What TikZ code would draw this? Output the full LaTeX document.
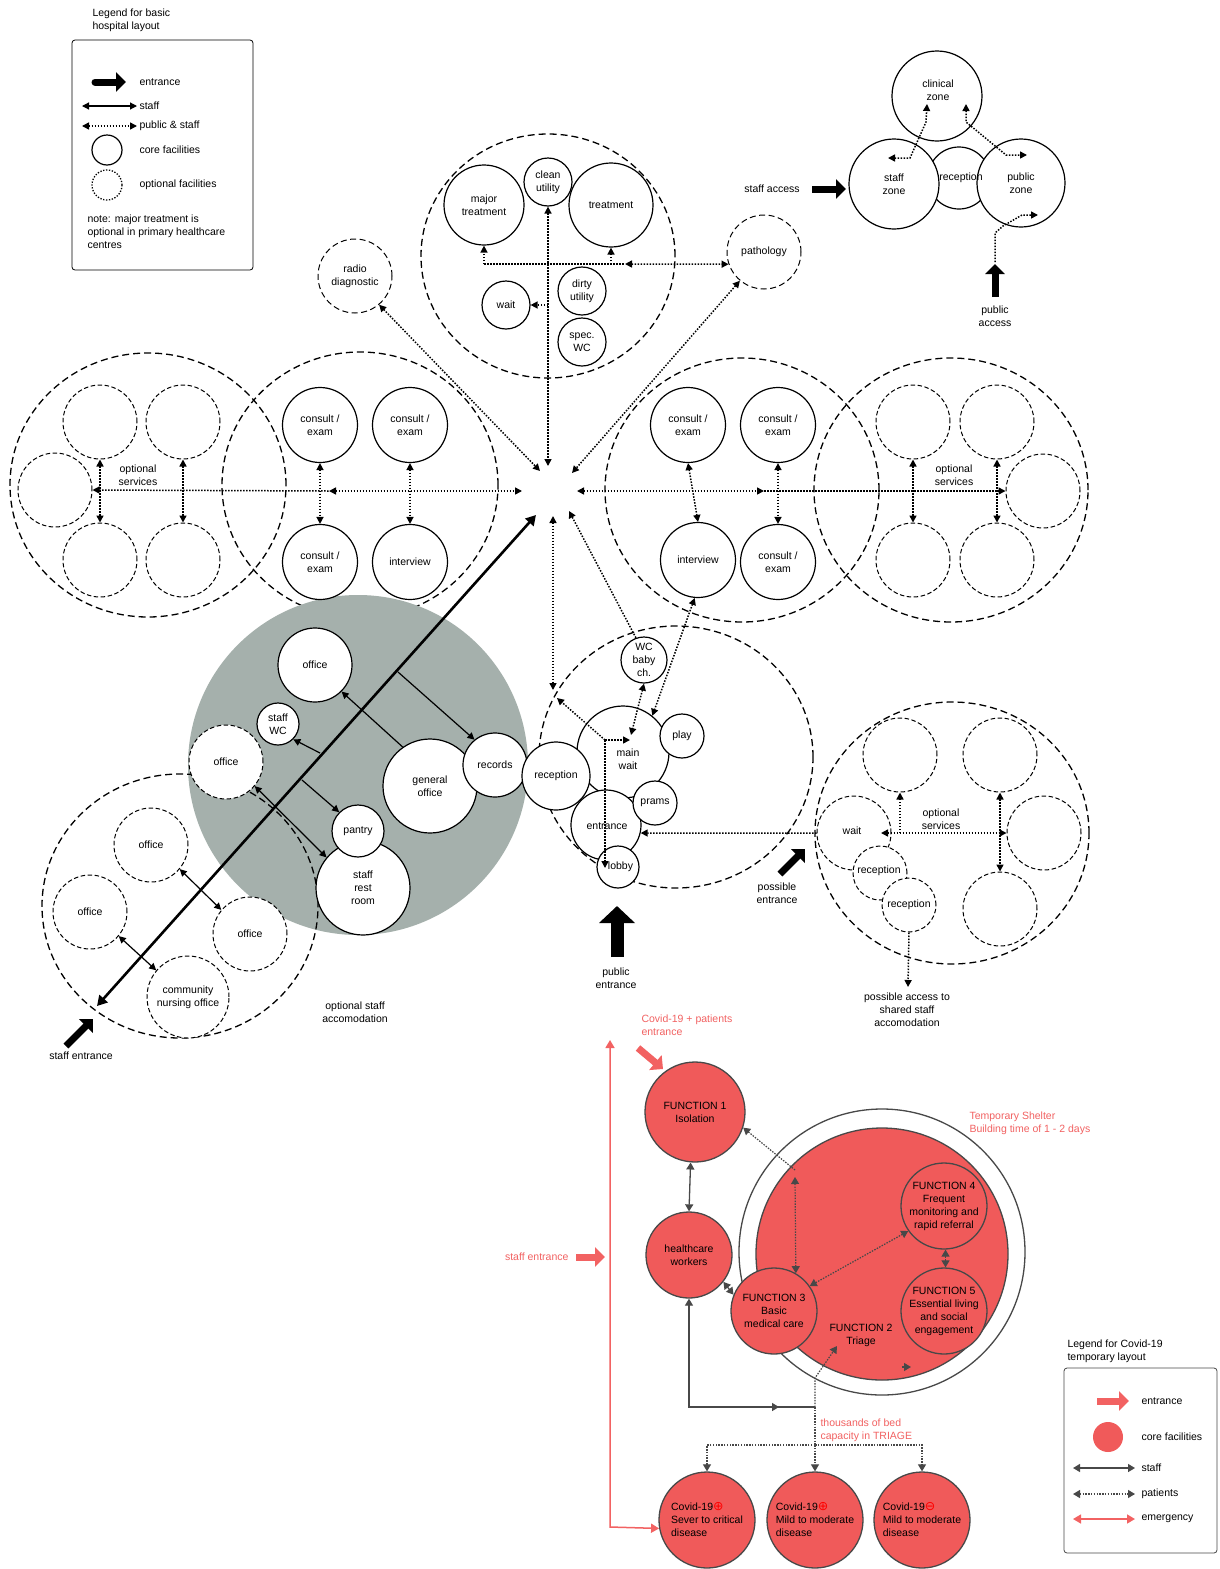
\documentclass[tikz,border=0pt]{standalone}
\usepackage{fontspec}
\setmainfont{Liberation Sans}
\newfontfamily\symbolfont{DejaVu Sans}
\usetikzlibrary{arrows.meta}
\definecolor{HospGrey}{RGB}{165,176,172}
\definecolor{CovidFill}{RGB}{240,90,90}
\definecolor{CovidText}{RGB}{242,98,98}
\definecolor{CovidLine}{RGB}{72,72,72}
\newcommand{\posmark}{{\symbolfont\fontsize{12.5}{13}\selectfont\textcolor{red}{⊕}}}
\newcommand{\negmark}{{\symbolfont\fontsize{12.5}{13}\selectfont\textcolor{red}{⊖}}}

\begin{document}
\begin{tikzpicture}[x=1pt,y=-1pt,
    font=\fontsize{10.5}{13}\selectfont,
    >={Triangle[length=7pt,width=7pt]},
    core/.style={circle,draw,line width=1.2pt,fill=white,inner sep=0pt,align=center},
    optional/.style={circle,draw,dash pattern=on 4.5pt off 2.5pt,line width=1pt,fill=white,inner sep=0pt,align=center},
    zone/.style={draw,dash pattern=on 7pt off 4pt,line width=1.3pt},
    staffarr/.style={line width=1.2pt},
    pubarr/.style={line width=1.5pt,dash pattern=on 1.5pt off 1.5pt},
    fatarr/.style={line width=7pt,-{Triangle[length=10pt,width=19pt]}},
    covid/.style={circle,draw=CovidLine,line width=1.3pt,fill=CovidFill,inner sep=0pt,align=center},
    gstaff/.style={draw=CovidLine,line width=1.3pt,>={Triangle[length=7pt,width=8pt]}},
    patarr/.style={draw=CovidLine,line width=1.2pt,dash pattern=on 1.5pt off 1.3pt,>={Triangle[length=7pt,width=8pt]}},
    emerg/.style={draw=CovidText,line width=1.5pt,>={Triangle[length=8pt,width=9pt]}},
    redtext/.style={text=CovidText,align=left}]

    \useasboundingbox (0,0) rectangle (1219,1569);
    \fill[white] (0,0) rectangle (1219,1569);

    % Legend for basic layout
    \node[anchor=north west,align=left] (legtitle) at (89,5) {Legend for basic\\hospital layout};
    \draw[line width=0.8pt,rounded corners=3pt] (72,40) rectangle (253,270);
    \coordinate (legent1) at (95,82);
    \coordinate (legent2) at (126,82);
    \draw[fatarr,line cap=round] (legent1) -- (legent2);
    \node[anchor=west] (legentrance) at (136,82) {entrance};
    \coordinate (legst1) at (82,106);
    \coordinate (legst2) at (137,106);
    \draw[staffarr,<->] (legst1) -- (legst2);
    \node[anchor=west] (legstaff) at (136,106) {staff};
    \coordinate (legpub1) at (82,126);
    \coordinate (legpub2) at (137,126);
    \draw[pubarr,<->] (legpub1) -- (legpub2);
    \node[anchor=west] (legpublic) at (136,126) {public \& staff};
    \node[core,minimum size=30pt] (legcore) at (107,150) {};
    \node[anchor=west] (legcoretxt) at (136,150) {core facilities};
    \node[circle,draw,line width=1.3pt,dash pattern=on 1.3pt off 1.6pt,minimum size=30pt] (legopt) at (107,185) {};
    \node[anchor=west] (legopttxt) at (136,185) {optional facilities};
    \node[anchor=north west,align=left] (legnote) at (84,211) {note: major treatment is\\optional in primary healthcare\\centres};

    % Zones: staff, clinical, public
    \node[core,minimum size=62pt] (zonerecep) at (959,178) {};
    \node[core,minimum size=90pt] (staffzone) at (894,184) {staff\\zone};
    \node[core,minimum size=88pt] (publiczone) at (1021,183) {public\\zone};
    \node[core,minimum size=90pt] (clinzone) at (937,96) {};
    \node[align=center] (clinzonetxt) at (938,90) {clinical\\zone};
    \node (zonereceptxt) at (961,178) {reception};
    \coordinate (sz1) at (888,158);
    \coordinate (sz2) at (910,158);
    \coordinate (sz3) at (926,122);
    \coordinate (cz1) at (927,104);
    \draw[pubarr,<->] (sz1) -- (sz2) -- (sz3) -- (cz1);
    \coordinate (cz2) at (966,104);
    \coordinate (cz3) at (966,122);
    \coordinate (pz1) at (1006,155);
    \coordinate (pz2) at (1027,155);
    \draw[pubarr,<->] (cz2) -- (cz3) -- (pz1) -- (pz2);
    \coordinate (pa0) at (995,262);
    \coordinate (pa1) at (995,233);
    \coordinate (pa2) at (1003,226);
    \coordinate (pa3) at (1022,215);
    \coordinate (pz3) at (1038,215);
    \draw[pubarr,->] (pa0) -- (pa1) -- (pa2) -- (pa3) -- (pz3);
    \coordinate (pacc1) at (995,297);
    \coordinate (pacc2) at (995,264);
    \draw[fatarr] (pacc1) -- (pacc2);
    \node[align=center] (publicacc) at (995,316) {public\\access};
    \node (staffacc) at (772,189) {staff access};
    \coordinate (sacc1) at (812,189);
    \coordinate (sacc2) at (846,189);
    \draw[fatarr] (sacc1) -- (sacc2);

    % Hub
    \coordinate (hubW) at (522,491);
    \coordinate (hubE) at (577,491);
    \coordinate (hubN) at (548,466);
    \coordinate (hubS) at (553,516);
    \coordinate (hubNW) at (540,471);
    \coordinate (hubNE) at (572,473);
    \coordinate (hubSE) at (569,511);
    \coordinate (hubSW) at (536,515);

    % Treatment cluster
    \draw[zone] (548,256) ellipse [x radius=127pt,y radius=122pt];
    \node[core,minimum size=80pt] (majtreat) at (484,205) {major\\treatment};
    \node[core,minimum size=48pt] (cleanut) at (548,182) {clean\\utility};
    \node[core,minimum size=84pt] (treatment) at (611,205) {treatment};
    \node[core,minimum size=48pt] (dirtyut) at (582,291) {dirty\\utility};
    \node[core,minimum size=48pt] (specwc) at (582,342) {spec.\\WC};
    \node[core,minimum size=48pt] (waittreat) at (506,305) {wait};
    \node[optional,minimum size=74pt,dash pattern=on 6pt off 3.5pt] (pathology) at (764,252) {pathology};
    \node[optional,minimum size=74pt,dash pattern=on 6pt off 3.5pt] (radio) at (355,276) {radio\\diagnostic};
    \coordinate (tjL) at (484,264);
    \coordinate (tjR) at (611,264);
    \coordinate (tjA) at (625,264);
    \draw[pubarr] (tjL) -- (tjA);
    \draw[pubarr,->] (tjL) -- (majtreat.south);
    \draw[pubarr,->] (tjR) -- (treatment.south);
    \draw[pubarr,<->] (tjA) -- (pathology.199);
    \draw[pubarr,<->] (cleanut.south) -- (hubN);
    \coordinate (wj) at (548,305);
    \draw[pubarr,->] (wj) -- (waittreat.east);
    \draw[pubarr,<->] (radio.-50) -- (hubNW);
    \draw[pubarr,<->] (pathology.-130) -- (hubNE);

    % Left clusters
    \draw[zone] (148,485) ellipse [x radius=138pt,y radius=132pt];
    \draw[zone] (360,485) ellipse [x radius=138pt,y radius=133pt];
    \node[optional,minimum size=74pt] (lopt1) at (100,422) {};
    \node[optional,minimum size=74pt] (lopt2) at (183,422) {};
    \node[optional,minimum size=74pt] (lopt3) at (100,560) {};
    \node[optional,minimum size=74pt] (lopt4) at (183,560) {};
    \node[optional,minimum size=74pt] (lopt5) at (55,490) {};
    \node[align=center] (loptsvc) at (138,475) {optional\\services};
    \node[core,minimum size=75pt] (lcons1) at (320,425) {consult /\\exam};
    \node[core,minimum size=75pt] (lcons2) at (410,425) {consult /\\exam};
    \coordinate (lmid) at (329,491);
    \draw[pubarr,<-] (lopt5.east) -- (lmid);
    \draw[pubarr,<->] (lmid) -- (hubW);
    \draw[pubarr,<->] (lopt1.south) -- (lopt3.north);
    \draw[pubarr,<->] (lopt2.south) -- (lopt4.north);

    % Right clusters
    \draw[zone] (742,490) ellipse [x radius=137pt,y radius=132pt];
    \draw[zone] (951,490) ellipse [x radius=137pt,y radius=132pt];
    \node[optional,minimum size=74pt] (ropt1) at (913,422) {};
    \node[optional,minimum size=74pt] (ropt2) at (997,422) {};
    \node[optional,minimum size=74pt] (ropt3) at (913,560) {};
    \node[optional,minimum size=74pt] (ropt4) at (997,560) {};
    \node[optional,minimum size=74pt] (ropt5) at (1043,491) {};
    \node[align=center] (roptsvc) at (954,475) {optional\\services};
    \node[core,minimum size=75pt] (rcons1) at (688,425) {consult /\\exam};
    \node[core,minimum size=75pt] (rcons2) at (778,425) {consult /\\exam};
    \node[core,minimum size=75pt] (rinterv) at (698,560) {interview};
    \node[core,minimum size=75pt] (rcons3) at (778,562) {consult /\\exam};
    \coordinate (rmid) at (764,491);
    \draw[pubarr,<->] (hubE) -- (rmid);
    \draw[pubarr,->] (rmid) -- (ropt5.west);
    \draw[pubarr,<->] (rcons1.south) -- (rinterv.north);
    \draw[pubarr,<->] (rcons2.south) -- (rcons3.north);
    \draw[pubarr,<->] (ropt1.south) -- (ropt3.north);
    \draw[pubarr,<->] (ropt2.south) -- (ropt4.north);

    % Staff area
    \fill[HospGrey] (358,765) circle [radius=170pt];
    \node[core,minimum size=75pt] (lcons3) at (320,562) {consult /\\exam};
    \node[core,minimum size=75pt] (linterv) at (410,562) {interview};
    \draw[pubarr,<->] (lcons1.south) -- (lcons3.north);
    \draw[pubarr,<->] (lcons2.south) -- (linterv.north);
    \draw[zone] (180,906) ellipse [x radius=138pt,y radius=132pt];
    \node[core,minimum size=74pt] (office1) at (315,665) {office};
    \node[core,minimum size=42pt] (staffwc) at (278,724) {staff\\WC};
    \node[optional,minimum size=74pt] (office2) at (226,762) {office};
    \node[core,minimum size=94pt] (genoffice) at (430,786) {general\\office};
    \node[core,minimum size=64pt] (records) at (495,765) {records};
    \node[core,minimum size=94pt] (restroom) at (363,888) {staff\\rest\\room};
    \node[core,minimum size=52pt] (pantry) at (358,831) {pantry};
    \node[optional,minimum size=74pt] (office3) at (151,845) {office};
    \node[optional,minimum size=74pt] (office4) at (90,912) {office};
    \node[optional,minimum size=74pt] (office5) at (250,934) {office};
    \node[optional,minimum size=82pt] (cnoffice) at (188,997) {community\\nursing office};
    \coordinate (staffend) at (97,1006);
    \draw[line width=2.6pt,{Triangle[length=10pt,width=11pt]}-{Triangle[length=10pt,width=11pt]}] (staffend) -- (hubSW);
    \coordinate (sl1) at (398,672);
    \coordinate (sl2) at (320,753);
    \coordinate (sl3) at (302,780);
    \draw[staffarr,->] (sl1) -- (records.129);
    \draw[staffarr,->] (genoffice.125) -- (office1.-45);
    \draw[staffarr,->] (sl2) -- (staffwc.-45);
    \draw[staffarr,->] (sl3) -- (pantry.135);
    \draw[staffarr,<->] (office2.-40) -- (restroom.140);
    \draw[staffarr,<->] (office3.-40) -- (office5.140);
    \draw[staffarr,<->] (office4.-40) -- (cnoffice.140);
    \coordinate (sent1) at (66,1046);
    \coordinate (sent2) at (93,1019);
    \draw[fatarr] (sent1) -- (sent2);
    \node (staffent) at (81,1056) {staff entrance};
    \node[align=center] (staffacco) at (355,1012) {optional staff\\accomodation};

    % Main wait cluster
    \draw[zone] (676,757) ellipse [x radius=137pt,y radius=131pt];
    \node[core,minimum size=92pt] (mainwait) at (623,752) {};
    \node[core,minimum size=70pt] (entrance) at (606,825) {};
    \node[core,minimum size=44pt] (prams) at (655,803) {prams};
    \node[core,minimum size=44pt] (play) at (682,736) {play};
    \node[core,minimum size=46pt] (wcbaby) at (644,660) {WC\\baby\\ch.};
    \node[core,minimum size=42pt] (lobby) at (618,867) {\hspace{5pt}lobby};
    \node[core,minimum size=68pt] (reception) at (556,776) {reception};
    \node[align=center] (mainwaittxt) at (628,759) {main\\wait};
    \node (entrancetxt) at (607,826) {entrance};
    \coordinate (wj2) at (553,690);
    \draw[pubarr,<->] (hubS) -- (wj2);
    \coordinate (mwj) at (605,740);
    \coordinate (mwa) at (557,698);
    \coordinate (mwb) at (630,740);
    \coordinate (mwc) at (605,868);
    \coordinate (mwd) at (631,735);
    \draw[pubarr,->] (mwj) -- (mwa);
    \draw[pubarr,->] (mwj) -- (mwb);
    \draw[pubarr,->] (mwj) -- (mwc);
    \draw[pubarr,<->] (wcbaby.-90) -- (mwd);
    \draw[pubarr,->] (wcbaby.110) -- (hubSE);
    \draw[pubarr,<->] (rinterv.-95) -- (mainwait.51);
    \coordinate (pent1) at (617,957);
    \coordinate (pent2) at (617,906);
    \draw[line width=13pt,-{Triangle[length=17pt,width=35pt]}] (pent1) -- (pent2);
    \node[align=center] (pubent) at (616,978) {public\\entrance};
    \coordinate (posent1) at (780,874);
    \coordinate (posent2) at (805,849);
    \draw[fatarr] (posent1) -- (posent2);
    \node[align=center] (posent) at (777,893) {possible\\entrance};

    % Shared cluster
    \draw[zone] (952,833) ellipse [x radius=137pt,y radius=131pt];
    \node[optional,minimum size=74pt] (gopt1) at (900,755) {};
    \node[optional,minimum size=74pt] (gopt2) at (1000,755) {};
    \node[optional,minimum size=74pt] (gopt4) at (1044,833) {};
    \node[optional,minimum size=74pt] (gopt5) at (1000,909) {};
    \node[optional,minimum size=74pt] (gwait) at (854,833) {};
    \node[optional,minimum size=54pt] (grecep1) at (880,873) {};
    \node[optional,minimum size=54pt] (grecep2) at (909,905) {};
    \node (gwaittxt) at (852,831) {wait};
    \node (grecep1txt) at (879,871) {reception};
    \node (grecep2txt) at (909,905) {reception};
    \node[align=center] (goptsvc) at (941,819) {optional\\services};
    \coordinate (gwa) at (881,833);
    \coordinate (gj1) at (900,833);
    \draw[pubarr,<->] (gwa) -- (gopt4.west);
    \draw[pubarr,->] (gj1) -- (gopt1.south);
    \draw[pubarr,<->] (gopt2.south) -- (gopt5.north);
    \draw[pubarr,->] (gwait.west) -- (entrance.-13);
    \coordinate (gacc) at (908,987);
    \draw[pubarr,->] (grecep2.south) -- (gacc);
    \node[align=center] (gacctxt) at (907,1010) {possible access to\\shared staff\\accomodation};

    % Covid-19 temporary layout
    \node[redtext,anchor=north west] (covent) at (638,1011) {Covid-19 + patients\\entrance};
    \coordinate (cent1) at (638,1048);
    \coordinate (cent2) at (663,1069);
    \draw[fatarr,draw=CovidText] (cent1) -- (cent2);
    \node[redtext,anchor=east] (redstaff) at (572,1257) {staff entrance};
    \coordinate (rsent1) at (576,1257);
    \coordinate (rsent2) at (605,1257);
    \draw[fatarr,draw=CovidText] (rsent1) -- (rsent2);
    \node[redtext,anchor=north west] (shelter) at (966,1108) {Temporary Shelter\\Building time of 1 - 2 days};

    \node[circle,draw=CovidLine,line width=1.3pt,fill=white,minimum size=286pt] (shelterout) at (882,1252) {};
    \node[covid,minimum size=252pt] (triage) at (882,1254) {};
    \node[align=center] (triagetxt) at (861,1335) {FUNCTION 2\\Triage};
    \node[covid,minimum size=100pt] (func1) at (695,1112) {FUNCTION 1\\Isolation};
    \node[covid,minimum size=86pt] (hcw) at (689,1255) {healthcare\\workers};
    \node[covid,minimum size=86pt] (func3) at (774,1311) {FUNCTION 3\\Basic\\medical care};
    \node[covid,minimum size=86pt] (func4) at (944,1206) {FUNCTION 4\\Frequent\\monitoring and\\rapid referral};
    \node[covid,minimum size=86pt] (func5) at (944,1311) {FUNCTION 5\\Essential living\\and social\\engagement};
    \node[covid,minimum size=96pt,align=left] (cov1) at (707,1520) {Covid-19\posmark\\Sever to critical\\disease};
    \node[covid,minimum size=96pt,align=left] (cov2) at (815,1520) {Covid-19\posmark\\Mild to moderate\\disease};
    \node[covid,minimum size=96pt,align=left] (cov3) at (922,1520) {Covid-19\negmark\\Mild to moderate\\disease};

    \draw[gstaff,<->] (func1.-95) -- (hcw.north);
    \coordinate (tcorner) at (795,1170);
    \coordinate (tcorner2) at (795,1177);
    \draw[patarr,<-] (func1.-18) -- (tcorner);
    \draw[patarr,<->] (tcorner2) -- (func3.60);
    \draw[patarr,<->] (func3.35) -- (func4.215);
    \draw[patarr,<->] (func4.-88) -- (func5.88);
    \draw[gstaff,<->] (hcw.-38) -- (func3.158);
    \coordinate (hj1) at (689,1407);
    \coordinate (hj2) at (815,1407);
    \coordinate (hmid) at (779,1407);
    \draw[gstaff,<-] (hcw.south) -- (hj1) -- (hj2);
    \draw[gstaff,->] (hj1) -- (hmid);
    \coordinate (hj3) at (815,1378);
    \coordinate (tri1) at (837,1346);
    \draw[patarr,->] (hj2) -- (hj3) -- (tri1);
    \coordinate (tri2a) at (902,1367);
    \coordinate (tri2b) at (911,1367);
    \draw[patarr,->] (tri2a) -- (tri2b);
    \coordinate (hj4) at (815,1445);
    \draw[patarr] (hj2) -- (hj4);
    \draw[patarr,->] (hj4) -| (cov1.north);
    \draw[patarr,->] (hj4) -- (cov2.north);
    \draw[patarr,->] (hj4) -| (cov3.north);
    \node[redtext,anchor=north west] (bedcap) at (817,1415) {thousands of bed\\capacity in TRIAGE};
    \coordinate (redtop) at (610,1040);
    \coordinate (redcorner) at (610,1527);
    \draw[emerg,<->] (redtop) -- (redcorner) -- (cov1.190);

    % Legend for Covid-19 layout
    \node[anchor=north west,align=left] (clegtitle) at (1064,1336) {Legend for Covid-19\\temporary layout};
    \draw[line width=0.8pt,draw=CovidLine,rounded corners=3pt] (1064,1368) rectangle (1217,1553);
    \coordinate (clegent1) at (1097,1401);
    \coordinate (clegent2) at (1129,1401);
    \draw[fatarr,draw=CovidText] (clegent1) -- (clegent2);
    \node[anchor=west] (clegentrance) at (1138,1401) {entrance};
    \node[covid,draw=none,minimum size=30pt] (clegcore) at (1108,1437) {};
    \node[anchor=west] (clegcoretxt) at (1138,1437) {core facilities};
    \coordinate (clegst1) at (1073,1468);
    \coordinate (clegst2) at (1135,1468);
    \draw[gstaff,<->] (clegst1) -- (clegst2);
    \node[anchor=west] (clegstaff) at (1138,1468) {staff};
    \coordinate (clegpat1) at (1073,1494);
    \coordinate (clegpat2) at (1135,1494);
    \draw[patarr,<->] (clegpat1) -- (clegpat2);
    \node[anchor=west] (clegpat) at (1138,1494) {patients};
    \coordinate (clegem1) at (1073,1519);
    \coordinate (clegem2) at (1135,1519);
    \draw[emerg,<->] (clegem1) -- (clegem2);
    \node[anchor=west] (clegem) at (1138,1519) {emergency};
\end{tikzpicture}
\end{document}
